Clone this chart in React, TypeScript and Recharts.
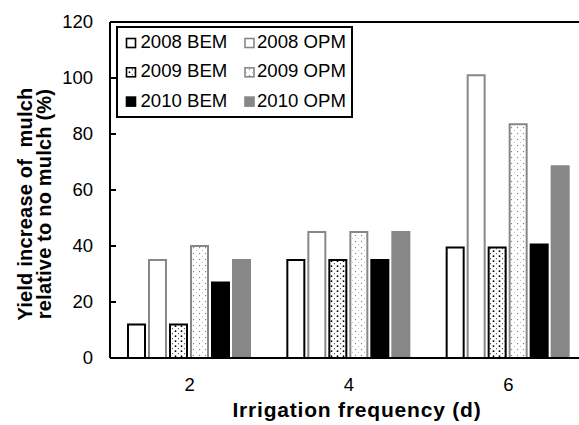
import React from 'react';
import { BarChart, Bar, XAxis, YAxis, ReferenceLine, Label } from 'recharts';

const categories = ['2', '4', '6'];
const bem2008 = [12, 35, 39.5];
const opm2008 = [35, 45, 101];
const bem2009 = [12, 35, 39.5];
const opm2009 = [40, 45, 83.5];
const bem2010 = [27, 35, 40.5];
const opm2010 = [35, 45, 68.5];
const yTicks = [0, 20, 40, 60, 80, 100, 120];

const seriesNames = ['2008 BEM', '2008 OPM', '2009 BEM', '2009 OPM', '2010 BEM', '2010 OPM'];
const seriesKeys = ['bem2008', 'opm2008', 'bem2009', 'opm2009', 'bem2010', 'opm2010'];
const seriesValues = [bem2008, opm2008, bem2009, opm2009, bem2010, opm2010];

const GRAY = '#878787';
const seriesStyle = [
  { fill: '#ffffff', stroke: '#000000' },
  { fill: '#ffffff', stroke: GRAY },
  { fill: 'url(#dotsBlack)', stroke: '#000000' },
  { fill: 'url(#dotsGray)', stroke: GRAY },
  { fill: '#000000', stroke: '#000000' },
  { fill: GRAY, stroke: GRAY },
];

const data = categories.map((c, i) => {
  const row: Record<string, number | string> = { cat: c };
  seriesKeys.forEach((k, j) => {
    row[k] = seriesValues[j][i];
  });
  return row;
});

const FONT = '"Liberation Sans", Arial, sans-serif';

const YTick = (props: any) => {
  const { x, y, payload } = props;
  return (
    <g>
      <line x1={x + 17} x2={x + 23} y1={y} y2={y} stroke="#000" strokeWidth={2} />
      <text x={x} y={y} dy="0.35em" textAnchor="end" fontSize={18.5} fontFamily={FONT} fill="#000">
        {payload.value}
      </text>
    </g>
  );
};

const XTick = (props: any) => {
  const { x, y, payload } = props;
  return (
    <text x={x} y={y + 31} textAnchor="middle" fontSize={18.5} fontFamily={FONT} fill="#000">
      {payload.value}
    </text>
  );
};

const XTitle = (props: any) => {
  const vb = props.viewBox;
  return (
    <text
      x={vb.x + vb.width / 2 + 8}
      y={vb.y + vb.height - 8}
      textAnchor="middle"
      fontSize={21}
      fontWeight="bold"
      letterSpacing={0.8}
      fontFamily={FONT}
      fill="#000"
    >
      Irrigation frequency (d)
    </text>
  );
};

const YTitle = (props: any) => {
  const vb = props.viewBox;
  const cy = vb.y + vb.height / 2 + 14;
  return (
    <text
      transform={`translate(0, ${cy}) rotate(-90)`}
      textAnchor="middle"
      fontSize={20}
      fontWeight="bold"
      letterSpacing={0.2}
      fontFamily={FONT}
      fill="#000"
      style={{ whiteSpace: 'pre' }}
    >
      <tspan x={0} y={32}>Yield increase of  mulch</tspan>
      <tspan x={0} y={50.5}>relative to no mulch (%)</tspan>
    </text>
  );
};

const LegendBox = () => {
  return (
    <svg
      width={238}
      height={93}
      style={{ position: 'absolute', left: 116, top: 26 }}
    >
      <rect x={1} y={1} width={235} height={90} fill="#fff" stroke="#000" strokeWidth={2} />
      {seriesNames.map((name, i) => {
        const col = i % 2;
        const row = Math.floor(i / 2);
        const mx = col === 0 ? 10.5 : 129;
        const tx = col === 0 ? 24.5 : 141;
        const baseY = 22 + row * 29.3;
        const st = seriesStyle[i];
        return (
          <g key={name}>
            <rect x={mx} y={baseY - 9.5} width={9} height={9} fill={st.fill} stroke={st.stroke} strokeWidth={1.6} />
            <text x={tx} y={baseY} fontSize={18.6} fontFamily={FONT} fill="#000">
              {name}
            </text>
          </g>
        );
      })}
    </svg>
  );
};

export default function App() {
  return (
    <div style={{ position: 'absolute', left: 0, top: 0, width: 579, height: 425, overflow: 'hidden', background: '#fff' }}>
      <BarChart
        width={600}
        height={425}
        data={data}
        margin={{ top: 22, right: 12, left: 0, bottom: 0 }}
        barCategoryGap={18}
        barGap={4}
      >
        <defs>
          <pattern id="dotsBlack" width="6" height="5" patternUnits="userSpaceOnUse">
            <rect width="6" height="5" fill="#fff" />
            <circle cx="1.5" cy="1.2" r="0.9" fill="#000" />
            <circle cx="4.5" cy="3.7" r="0.6" fill="#444" />
          </pattern>
          <pattern id="dotsGray" width="6" height="6" patternUnits="userSpaceOnUse">
            <rect width="6" height="6" fill="#fff" />
            <circle cx="1.5" cy="1.5" r="0.7" fill="#888" />
            <circle cx="4.5" cy="4.5" r="0.5" fill="#aaa" />
          </pattern>
        </defs>
        <XAxis
          dataKey="cat"
          height={67}
          tickLine={false}
          tickSize={0}
          tick={<XTick />}
          axisLine={{ stroke: '#000', strokeWidth: 2 }}
        >
          <Label content={<XTitle />} />
        </XAxis>
        <YAxis
          width={110}
          domain={[0, 120]}
          ticks={yTicks}
          interval={0}
          tickLine={false}
          tickSize={0}
          tickMargin={17}
          tick={<YTick />}
          axisLine={{ stroke: '#000', strokeWidth: 2 }}
        >
          <Label content={<YTitle />} />
        </YAxis>
        <ReferenceLine y={120} stroke="#000" strokeWidth={2} />
        {seriesKeys.map((k, i) => (
          <Bar
            key={k}
            dataKey={k}
            name={seriesNames[i]}
            fill={seriesStyle[i].fill}
            stroke={seriesStyle[i].stroke}
            strokeWidth={2}
            isAnimationActive={false}
          />
        ))}
      </BarChart>
      <LegendBox />
    </div>
  );
}
